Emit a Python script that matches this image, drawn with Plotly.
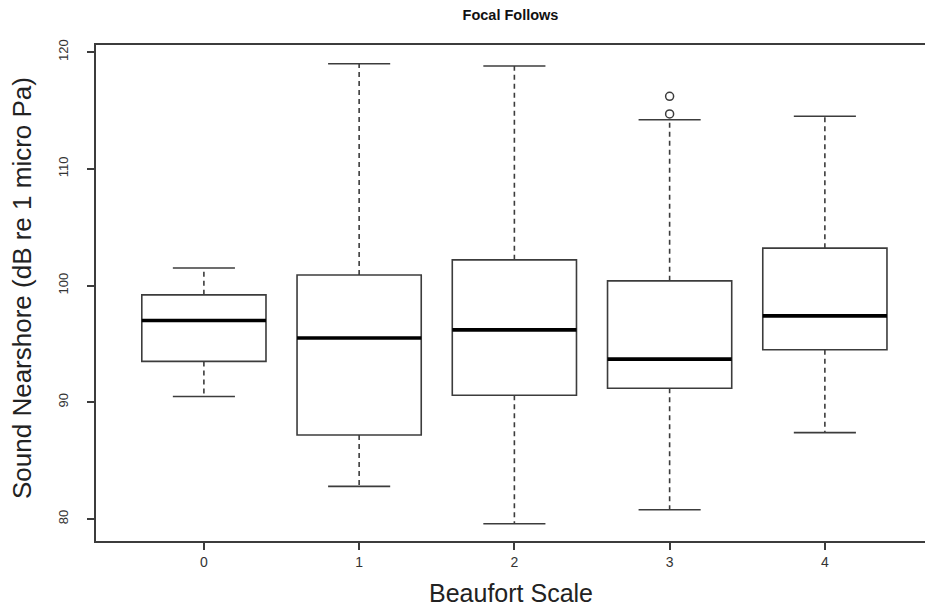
import plotly.graph_objects as go

# ---- data ----
categories = [0, 1, 2, 3, 4]
tick_labels = ["0", "1", "2", "3", "4"]
y_ticks = [80, 90, 100, 110, 120]
lower_whisker = [90.5, 82.8, 79.6, 80.8, 87.4]
q1 = [93.5, 87.2, 90.6, 91.2, 94.5]
median = [97.0, 95.5, 96.2, 93.7, 97.4]
q3 = [99.2, 100.9, 102.2, 100.4, 103.2]
upper_whisker = [101.5, 119.0, 118.8, 114.2, 114.5]
outlier_x = [3, 3]
outlier_y = [114.7, 116.2]

BOX_W = 0.8
CAP_W = 0.4
FONT = "Liberation Sans, Arial, Helvetica, sans-serif"
LINE_COL = "#3c3c3c"

fig = go.Figure()

# box bodies (whiskers drawn separately, dashed like R)
fig.add_trace(go.Box(
    x=categories, q1=q1, median=median, q3=q3,
    lowerfence=q1, upperfence=q3,
    width=BOX_W, whiskerwidth=0,
    fillcolor="rgba(0,0,0,0)",
    line=dict(color=LINE_COL, width=1.6),
    boxpoints=False, hoverinfo="skip", showlegend=False,
))

# dashed whiskers
wx, wy = [], []
for c, a, b, lo, up in zip(categories, q1, q3, lower_whisker, upper_whisker):
    wx += [c, c, None, c, c, None]
    wy += [b, up, None, a, lo, None]
fig.add_trace(go.Scatter(x=wx, y=wy, mode="lines",
                         line=dict(color=LINE_COL, width=1.6, dash="5px,4px"),
                         hoverinfo="skip", showlegend=False))

# whisker caps
cx, cy = [], []
for c, lo, up in zip(categories, lower_whisker, upper_whisker):
    cx += [c - CAP_W / 2, c + CAP_W / 2, None, c - CAP_W / 2, c + CAP_W / 2, None]
    cy += [up, up, None, lo, lo, None]
fig.add_trace(go.Scatter(x=cx, y=cy, mode="lines",
                         line=dict(color=LINE_COL, width=1.6),
                         hoverinfo="skip", showlegend=False))

# thick medians
mx, my = [], []
for c, m in zip(categories, median):
    mx += [c - BOX_W / 2, c + BOX_W / 2, None]
    my += [m, m, None]
fig.add_trace(go.Scatter(x=mx, y=my, mode="lines",
                         line=dict(color="#000000", width=3.6),
                         hoverinfo="skip", showlegend=False))

# outliers
fig.add_trace(go.Scatter(x=outlier_x, y=outlier_y, mode="markers",
                         marker=dict(symbol="circle-open", size=8,
                                     color=LINE_COL, line=dict(width=1.5)),
                         hoverinfo="skip", showlegend=False))

fig.update_layout(
    width=925, height=607,
    margin=dict(l=96, r=0, t=45, b=66),
    paper_bgcolor="white", plot_bgcolor="white",
    font=dict(family=FONT, color="#222222"),
    title=dict(text="<b>Focal Follows</b>", x=0.5, xref="paper",
               y=1 - 15 / 607, yref="container", yanchor="middle",
               font=dict(size=14.5, color="#111111")),
    annotations=[
        dict(text="Beaufort Scale", xref="paper", yref="paper",
             x=0.5, y=0, yanchor="middle", yshift=-52, showarrow=False,
             font=dict(size=25, color="#222222")),
        dict(text="Sound Nearshore (dB re 1 micro Pa)", xref="paper", yref="paper",
             x=0, y=0.5, xanchor="center", yanchor="middle", xshift=-74, yshift=5,
             textangle=-90, showarrow=False, font=dict(size=26, color="#222222")),
    ],
)
fig.update_xaxes(
    range=[-0.695, 4.645], tickvals=categories, ticktext=tick_labels,
    showgrid=False, zeroline=False, automargin=False,
    showline=True, mirror=True, linecolor=LINE_COL, linewidth=1.5,
    ticks="outside", ticklen=7, tickcolor=LINE_COL, tickwidth=1.5,
    tickfont=dict(size=14, color="#333333"),
)
fig.update_yaxes(
    range=[78.12, 120.6], tickvals=y_ticks,
    showgrid=False, zeroline=False, automargin=False,
    showline=True, mirror=True, linecolor=LINE_COL, linewidth=1.5,
    ticks="outside", ticklen=7, tickcolor=LINE_COL, tickwidth=1.5,
    tickangle=-90, ticklabelstandoff=14,
    tickfont=dict(size=13, color="#333333"),
)

fig.write_html(
    "out.html",
    config={"displayModeBar": False},
    post_script="document.documentElement.style.margin='0';"
                "document.body.style.margin='0';"
                "document.body.style.overflow='hidden';",
)
